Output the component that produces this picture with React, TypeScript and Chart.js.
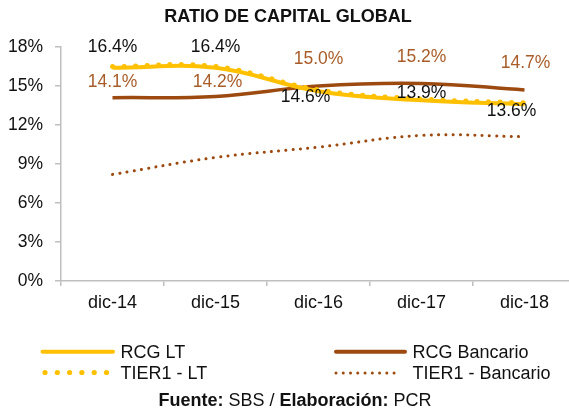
import React, { useEffect, useRef } from 'react';
import { Chart, registerables } from 'chart.js';

Chart.register(...registerables);

const categories = ['dic-14', 'dic-15', 'dic-16', 'dic-17', 'dic-18'];
const rcgLT = [16.4, 16.4, 14.6, 13.9, 13.6];
const tier1LT = [16.5, 16.5, 14.7, 14.0, 13.7];
const rcgBancario = [14.1, 14.2, 15.0, 15.2, 14.7];
const tier1Bancario = [8.2, 9.5, 10.3, 11.2, 11.1];
const yMin = 0;
const yMax = 18;
const yStep = 3;

const YELLOW = '#FFC000';
const BROWN = '#9C4A10';
const BROWN_LABEL = '#A85C28';
const AXIS = '#BFBFBF';
const TEXT = '#111111';
const FONT = "'Liberation Sans', Arial, sans-serif";

const labelPlugin = {
  id: 'valueLabels',
  afterDatasetsDraw(chart: any) {
    const ctx = chart.ctx;
    chart.data.datasets.forEach((ds: any, di: number) => {
      const cfg = ds.valueLabels;
      if (!cfg) return;
      const meta = chart.getDatasetMeta(di);
      ctx.save();
      ctx.font = `${cfg.size}px ${FONT}`;
      ctx.fillStyle = cfg.color;
      ctx.textAlign = 'center';
      ctx.textBaseline = 'middle';
      meta.data.forEach((pt: any, i: number) => {
        const off = cfg.offsets[i] || [0, -20];
        const v = ds.data[i];
        ctx.fillText(v.toFixed(1) + '%', pt.x + off[0], pt.y + off[1]);
      });
      ctx.restore();
    });
  },
};

function ChartCanvas() {
  const ref = useRef<HTMLCanvasElement | null>(null);
  useEffect(() => {
    if (!ref.current) return;
    const chart = new Chart(ref.current, {
      type: 'line',
      data: {
        labels: categories,
        datasets: [
          {
            label: 'TIER1 - LT',
            data: tier1LT,
            borderColor: YELLOW,
            borderWidth: 5,
            borderDash: [0.1, 11.4],
            borderCapStyle: 'round',
            pointRadius: 0,
            tension: 0.4,
            fill: false,
          } as any,
          {
            label: 'RCG LT',
            data: rcgLT,
            borderColor: YELLOW,
            borderWidth: 4,
            pointRadius: 0,
            tension: 0.4,
            fill: false,
            valueLabels: {
              color: TEXT,
              size: 17.5,
              offsets: [[0, -21], [0, -21], [-13, 5.5], [0, -7], [-13, 7]],
            },
          } as any,
          {
            label: 'RCG Bancario',
            data: rcgBancario,
            borderColor: BROWN,
            borderWidth: 3.5,
            pointRadius: 0,
            tension: 0.4,
            fill: false,
            valueLabels: {
              color: BROWN_LABEL,
              size: 17.5,
              offsets: [[0, -16], [2, -14.5], [0, -27], [0, -26], [1, -26.5]],
            },
          } as any,
          {
            label: 'TIER1 - Bancario',
            data: tier1Bancario,
            borderColor: BROWN,
            borderWidth: 3,
            borderDash: [0.1, 7.2],
            borderCapStyle: 'round',
            pointRadius: 0,
            tension: 0.4,
            fill: false,
          } as any,
        ],
      },
      options: {
        responsive: false,
        animation: false,
        devicePixelRatio: 1,
        layout: { padding: { left: 0, right: 14, top: 0, bottom: 16 } },
        plugins: {
          legend: { display: false },
          tooltip: { enabled: false },
          title: {
            display: true,
            text: 'RATIO DE CAPITAL GLOBAL',
            color: TEXT,
            font: { family: FONT, size: 18, weight: 'bold' },
            padding: { top: 6, bottom: 19.4 },
          },
        },
        scales: {
          x: {
            type: 'category',
            offset: true,
            grid: {
              offset: true,
              drawOnChartArea: false,
              drawTicks: true,
              tickLength: 5,
              color: AXIS,
              lineWidth: 1.5,
            },
            border: { display: true, color: AXIS, width: 1.5 },
            ticks: {
              color: TEXT,
              font: { family: FONT, size: 18 },
              padding: 6,
              maxRotation: 0,
              autoSkip: false,
            },
            afterFit: (s: any) => {
              s.height = 33;
            },
          },
          y: {
            min: yMin,
            max: yMax,
            grid: {
              drawOnChartArea: false,
              drawTicks: true,
              tickLength: 6,
              color: AXIS,
              lineWidth: 1.5,
            },
            border: { display: true, color: AXIS, width: 1.5 },
            ticks: {
              stepSize: yStep,
              color: TEXT,
              font: { family: FONT, size: 17.5 },
              padding: 12,
              callback: (v: any) => v + '%',
            },
            afterFit: (s: any) => {
              s.width = 61;
            },
          },
        },
      },
      plugins: [labelPlugin],
    });
    return () => chart.destroy();
  }, []);
  return <canvas ref={ref} width={590} height={330} style={{ display: 'block' }} />;
}

const textStyle: React.CSSProperties = {
  position: 'absolute',
  fontFamily: FONT,
  fontSize: 18,
  color: TEXT,
  lineHeight: '22px',
  height: 22,
  whiteSpace: 'nowrap',
};

export default function App() {
  const yellowDots = [45, 57.3, 69.6, 81.9, 94.2, 106.5];
  const brownDots = Array.from({ length: 9 }, (_, i) => 336 + i * 7.26);
  return (
    <div
      style={{
        position: 'absolute',
        left: 0,
        top: 0,
        width: 569,
        height: 411,
        overflow: 'hidden',
        background: '#ffffff',
      }}
    >
      <div style={{ position: 'absolute', left: 0, top: 0 }}>
        <ChartCanvas />
      </div>
      <svg
        width={569}
        height={411}
        style={{ position: 'absolute', left: 0, top: 0 }}
      >
        <line x1={42.5} y1={351.7} x2={113} y2={351.7} stroke={YELLOW} strokeWidth={4} strokeLinecap="round" />
        {yellowDots.map((x, i) => (
          <circle key={'y' + i} cx={x} cy={372.5} r={2.6} fill={YELLOW} />
        ))}
        <line x1={336} y1={351.7} x2={405} y2={351.7} stroke={BROWN} strokeWidth={4} strokeLinecap="round" />
        {brownDots.map((x, i) => (
          <circle key={'b' + i} cx={x} cy={373} r={1.5} fill={BROWN} />
        ))}
      </svg>
      <div style={{ ...textStyle, left: 120.5, top: 341 }}>RCG LT</div>
      <div style={{ ...textStyle, left: 120.5, top: 362 }}>TIER1 - LT</div>
      <div style={{ ...textStyle, left: 412.5, top: 341 }}>RCG Bancario</div>
      <div style={{ ...textStyle, left: 412.5, top: 362 }}>TIER1 - Bancario</div>
      <div
        style={{
          ...textStyle,
          left: 0,
          width: 590,
          textAlign: 'center',
          top: 389,
        }}
      >
        <b>Fuente:</b> SBS / <b>Elaboración:</b> PCR
      </div>
    </div>
  );
}
